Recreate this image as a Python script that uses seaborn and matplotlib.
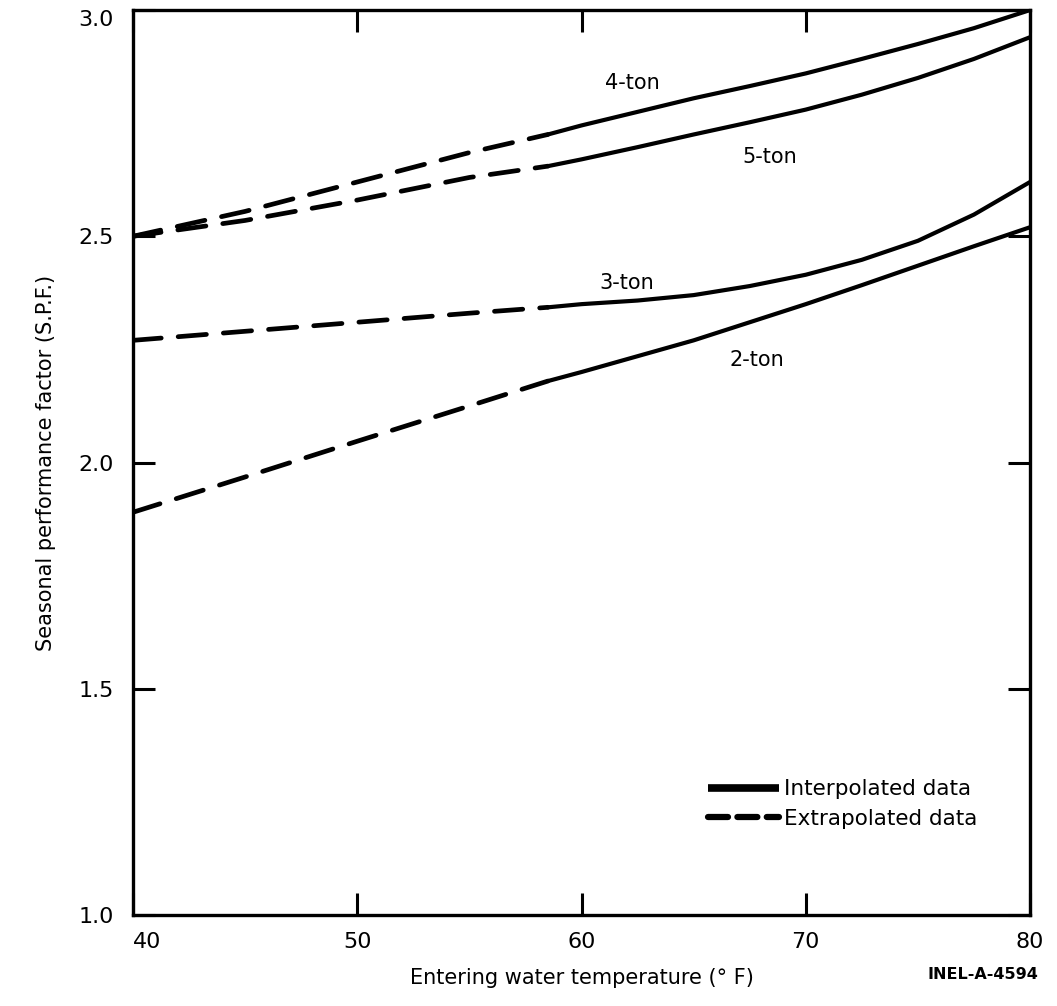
import matplotlib
matplotlib.use("Agg")
import matplotlib.pyplot as plt
from matplotlib.lines import Line2D
import seaborn as sns
import pandas as pd

# ---- data ----
temps_ext = [40, 45, 50, 55, 58.5]
temps_int = [58.5, 60, 62.5, 65, 67.5, 70, 72.5, 75, 77.5, 80]

spf2_ext = [1.89, 1.968, 2.047, 2.125, 2.18]
spf2_int = [2.18, 2.20, 2.235, 2.27, 2.31, 2.35, 2.392, 2.435, 2.478, 2.52]
spf3_ext = [2.27, 2.29, 2.31, 2.33, 2.343]
spf3_int = [2.343, 2.35, 2.358, 2.37, 2.39, 2.415, 2.448, 2.49, 2.548, 2.62]
spf4_ext = [2.50, 2.555, 2.62, 2.685, 2.725]
spf4_int = [2.725, 2.745, 2.775, 2.805, 2.832, 2.86, 2.892, 2.925, 2.96, 3.0]
spf5_ext = [2.50, 2.535, 2.58, 2.63, 2.655]
spf5_int = [2.655, 2.67, 2.697, 2.725, 2.752, 2.78, 2.813, 2.85, 2.892, 2.94]

units = ["2-ton", "3-ton", "4-ton", "5-ton"]
x_ticks = [40, 50, 60, 70, 80]
y_ticks = [1.0, 1.5, 2.0, 2.5, 3.0]
legend_labels = ["Interpolated data", "Extrapolated data"]

series = {
    "2-ton": (spf2_ext, spf2_int),
    "3-ton": (spf3_ext, spf3_int),
    "4-ton": (spf4_ext, spf4_int),
    "5-ton": (spf5_ext, spf5_int),
}
label_pos = {"2-ton": (67.8, 2.227), "3-ton": (62.0, 2.397),
             "4-ton": (62.25, 2.839), "5-ton": (68.4, 2.675)}

sns.set_theme(style="white")
plt.rcParams["font.family"] = ["DejaVu Sans"]
plt.rcParams.update({"text.color": "black", "axes.labelcolor": "black",
                     "xtick.color": "black", "ytick.color": "black"})

fig = plt.figure(figsize=(10.57, 10.06), dpi=100)
ax = fig.add_axes([0.1258, 0.0905, 0.8487, 0.8995])

rows = []
for u in units:
    ext, inter = series[u]
    for t, v in zip(temps_ext, ext):
        rows.append({"unit": u, "kind": "ext", "T": t, "SPF": v})
    for t, v in zip(temps_int, inter):
        rows.append({"unit": u, "kind": "int", "T": t, "SPF": v})
df = pd.DataFrame(rows)

for u in units:
    d_ext = df[(df.unit == u) & (df.kind == "ext")]
    d_int = df[(df.unit == u) & (df.kind == "int")]
    sns.lineplot(data=d_ext, x="T", y="SPF", ax=ax, color="black", lw=3.4,
                 sort=False, legend=False,
                 linestyle=(0, (6.0, 3.6)), solid_capstyle="round",
                 dash_capstyle="round")
    sns.lineplot(data=d_int, x="T", y="SPF", ax=ax, color="black", lw=3.0,
                 sort=False, legend=False, solid_capstyle="round")
    lx, ly = label_pos[u]
    ax.text(lx, ly, u, fontsize=15, ha="center", va="center", color="black")

ax.set_xlim(40, 80)
ax.set_ylim(1.0, 3.0)
ax.set_xticks(x_ticks)
ax.set_yticks(y_ticks)
ax.set_xticklabels([str(t) for t in x_ticks])
ax.set_yticklabels([f"{t:.1f}" for t in y_ticks])
ax.tick_params(axis="both", direction="in", length=16, width=2.2, colors="black",
               labelsize=16, top=True, right=True, bottom=True, left=True)
ax.tick_params(axis="y", pad=14)
ax.tick_params(axis="x", pad=12)
ax.get_xticklabels()[0].set_ha("left")
ax.get_yticklabels()[-1].set_va("top")
for s in ax.spines.values():
    s.set_color("black")
    s.set_linewidth(2.4)

ax.set_xlabel("Entering water temperature (° F)", fontsize=15, labelpad=12)
ax.set_ylabel("Seasonal performance factor (S.P.F.)", fontsize=15, labelpad=16)

handles = [Line2D([], [], color="black", lw=5.5, solid_capstyle="butt"),
           Line2D([], [], color="black", lw=4.5, linestyle=(0, (3.2, 1.5)),
                  dash_capstyle="round")]
ax.legend(handles, legend_labels, loc="lower left", bbox_to_anchor=(0.641, 0.095),
          frameon=False, fontsize=15.5, handlelength=3.3, handletextpad=0.25,
          labelspacing=0.45, borderpad=0, borderaxespad=0)

fig.text(0.982, 0.031, "INEL-A-4594", fontsize=11.5, ha="right", va="center",
         fontweight="bold", color="black")

fig.savefig("out.png", dpi=100, facecolor="white")
